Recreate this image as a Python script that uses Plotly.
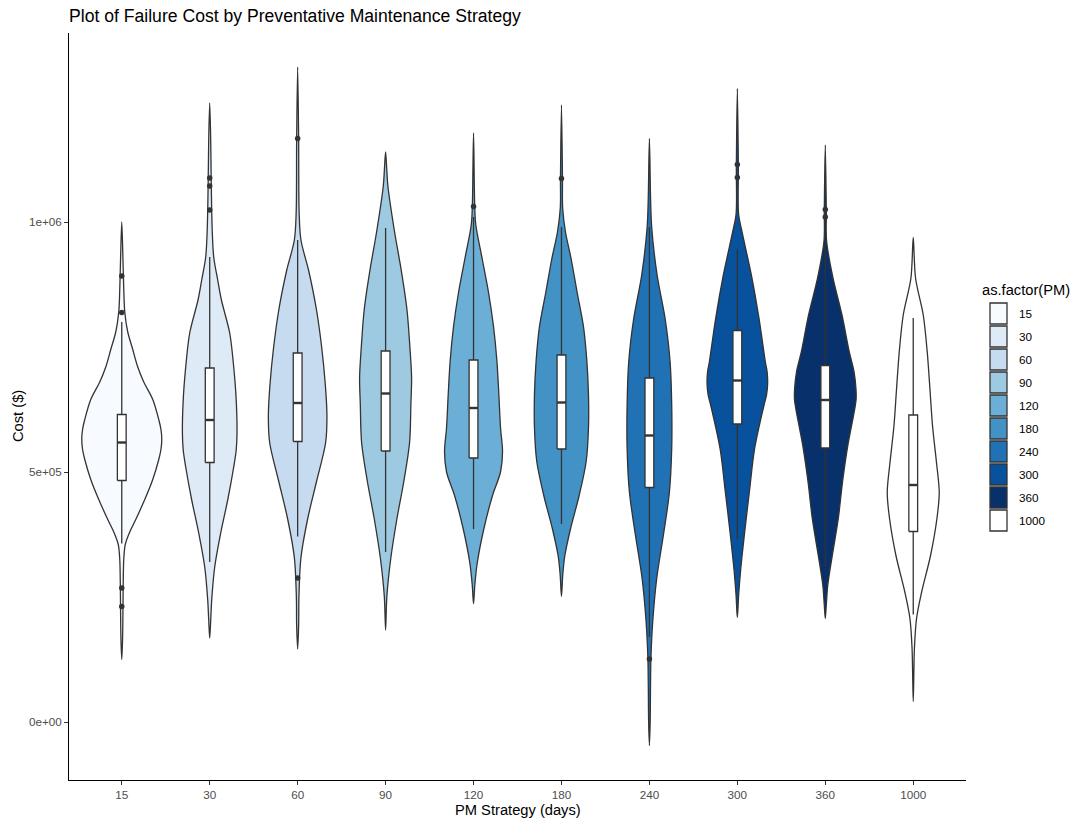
import plotly.graph_objects as go

# ---------------- data ----------------
categories = ["15", "30", "60", "90", "120", "180", "240", "300", "360", "1000"]
fill_colors = ["#F7FBFF", "#DEEBF7", "#C6DBEF", "#9ECAE1", "#6BAED6",
               "#4292C6", "#2171B5", "#08519C", "#08306B", "#FFFFFF"]

# violin outlines: cost levels (top -> bottom) and relative density half-widths
v15_cost = [1000000, 925000, 865000, 820000, 780000, 745000, 710000, 680000, 645000, 605000, 585000,
            565000, 545000, 525000, 485000, 445000, 405000, 380000, 355000, 325000, 285000, 225000,
            165000, 125000]
v15_dens = [0, 1.2, 2, 3, 6, 11, 16, 22, 31, 37, 39.2, 40, 39.2, 37, 31, 23, 14, 8, 3.5, 2, 1.5,
            1.2, 0.8, 0]

v30_cost = [1238000, 1164000, 1084000, 984000, 930000, 884000, 844000, 778000, 710000, 644000,
            578000, 544000, 510000, 444000, 378000, 310000, 244000, 204000, 168000]
v30_dens = [0, 1, 1.5, 2.5, 4, 8, 11.7, 20, 24, 26.5, 27.3, 26.5, 24, 18, 11, 5, 2, 1, 0]

v60_cost = [1310000, 1164000, 1018000, 964000, 903000, 826000, 750000, 674000, 612000, 559000,
            482000, 406000, 329000, 252000, 194000, 146000]
v60_dens = [0, 1, 1.5, 3.3, 11, 18.7, 24, 27.7, 29.3, 28, 19, 10, 3.3, 1.3, 1, 0]

v90_cost = [1140000, 1104000, 1072000, 980000, 903000, 826000, 750000, 689000, 636000, 559000,
            482000, 406000, 329000, 252000, 184000]
v90_dens = [0, 1.2, 2.3, 9, 15.7, 21.3, 24.3, 26, 25.3, 24, 18.3, 11.3, 5.3, 1.3, 0]

v120_cost = [1178000, 1031000, 994000, 926000, 859000, 791000, 724000, 656000, 588000, 541000,
             500000, 453000, 386000, 318000, 274000, 237000]
v120_dens = [0, 1.2, 2.3, 8.7, 15, 20, 23.3, 25.3, 27, 29, 27, 19, 10.3, 3.7, 1.3, 0]

v180_cost = [1234000, 1087000, 1028000, 980000, 926000, 859000, 791000, 724000, 656000, 588000,
             521000, 453000, 386000, 332000, 294000, 251000]
v180_dens = [0, 1, 1.2, 4, 9.7, 15.7, 22, 25.3, 27, 27, 24.7, 17.7, 9, 3.3, 1.3, 0]

v240_cost = [1167000, 1044000, 989000, 894000, 807000, 720000, 634000, 547000, 460000, 374000,
             287000, 200000, 126000, 70000, 4000, -47000]
v240_dens = [0, 1.2, 2.3, 7.7, 15.7, 20.7, 22.3, 22.3, 20, 14, 7.3, 3.3, 1.5, 1.1, 0.8, 0]

v300_cost = [1267000, 1114000, 1015000, 980000, 894000, 807000, 720000, 700000, 677000, 654000,
             634000, 547000, 460000, 374000, 304000, 254000, 209000]
v300_dens = [0, 1, 1.3, 4.7, 14, 21.7, 28, 29.8, 30.3, 29.2, 26.7, 17.3, 12, 7, 3.3, 1.3, 0]

v360_cost = [1154000, 1024000, 962000, 888000, 814000, 740000, 700000, 666000, 645000, 629000,
             600000, 555000, 481000, 407000, 333000, 274000, 234000, 207000]
v360_dens = [0, 1, 1.3, 7.7, 16.7, 24, 28.8, 30.7, 30.8, 29.7, 27, 22.7, 17.3, 13, 7, 2.5, 1, 0]

v1000_cost = [969000, 888000, 814000, 740000, 666000, 592000, 518000, 459000, 407000, 333000,
              259000, 207000, 148000, 41000]
v1000_dens = [0, 2.3, 10, 14, 16.7, 19.3, 23.3, 26, 23.7, 17.3, 8.3, 3.3, 1.2, 0]

violin_cost = [v15_cost, v30_cost, v60_cost, v90_cost, v120_cost,
               v180_cost, v240_cost, v300_cost, v360_cost, v1000_cost]
violin_dens = [v15_dens, v30_dens, v60_dens, v90_dens, v120_dens,
               v180_dens, v240_dens, v300_dens, v360_dens, v1000_dens]

# boxplot statistics
box_q1 = [483000, 519000, 561000, 542000, 528000, 546000, 469000, 596000, 548000, 381000]
box_median = [559000, 604000, 638000, 657000, 628000, 639000, 573000, 683000, 644000, 474000]
box_q3 = [615000, 708000, 738000, 742000, 724000, 734000, 688000, 783000, 713000, 614000]
box_low = [357000, 320000, 371000, 340000, 386000, 396000, 170000, 365000, 311000, 215000]
box_high = [800000, 930000, 964000, 988000, 1010000, 990000, 990000, 946000, 955000, 808000]

# outliers
outlier_cat = ["15", "15", "15", "15", "30", "30", "30", "60", "60", "120", "180",
               "240", "300", "300", "360", "360"]
outlier_cost = [892000, 819000, 268000, 231000, 1088000, 1072000, 1024000, 1167000, 288000,
                1031000, 1087000, 126000, 1115000, 1089000, 1025000, 1010000]

y_tick_vals = [0, 500000, 1000000]
y_tick_text = ["0e+00", "5e+05", "1e+06"]

# ---------------- layout constants ----------------
W, H = 1090, 822
PL, PR, PT, PB = 69, 966, 33, 780          # plot area in px
X_RANGE = [0.4, 10.6]
Y_RANGE = [-116000, 1378000]
UNITS_PER_PX = (X_RANGE[1] - X_RANGE[0]) / (PR - PL)
BOX_HALF = 0.05
OUTLINE = "#333333"
LW = 1.3
FONT = "Liberation Sans, Arial, sans-serif"


def px_x(p):
    return (p - PL) / (PR - PL)


def px_y(p):
    return (PB - p) / (PB - PT)


fig = go.Figure()

for i, cat in enumerate(categories):
    pos = i + 1
    cost = violin_cost[i]
    dens = violin_dens[i]
    xs = [pos + d * UNITS_PER_PX for d in dens] + [pos - d * UNITS_PER_PX for d in reversed(dens[:-1])]
    ys = list(cost) + list(reversed(cost[:-1]))
    fig.add_trace(go.Scatter(
        x=xs, y=ys, mode="lines", fill="toself", fillcolor=fill_colors[i],
        line=dict(color=OUTLINE, width=LW, shape="spline", smoothing=0.9),
        hoverinfo="skip", showlegend=False))

    # whiskers
    fig.add_trace(go.Scatter(
        x=[pos, pos, None, pos, pos], y=[box_q3[i], box_high[i], None, box_low[i], box_q1[i]],
        mode="lines", line=dict(color=OUTLINE, width=LW), hoverinfo="skip", showlegend=False))
    # box body
    fig.add_trace(go.Scatter(
        x=[pos - BOX_HALF, pos + BOX_HALF, pos + BOX_HALF, pos - BOX_HALF, pos - BOX_HALF],
        y=[box_q1[i], box_q1[i], box_q3[i], box_q3[i], box_q1[i]],
        mode="lines", fill="toself", fillcolor="white",
        line=dict(color=OUTLINE, width=LW), hoverinfo="skip", showlegend=False))
    # median
    fig.add_trace(go.Scatter(
        x=[pos - BOX_HALF, pos + BOX_HALF], y=[box_median[i], box_median[i]], mode="lines",
        line=dict(color=OUTLINE, width=2.4), hoverinfo="skip", showlegend=False))

fig.add_trace(go.Scatter(
    x=[categories.index(c) + 1 for c in outlier_cat], y=outlier_cost, mode="markers",
    marker=dict(color=OUTLINE, size=5.5), hoverinfo="skip", showlegend=False))

# ---------------- custom legend (ggplot style) ----------------
shapes = []
annotations = []
KEY_TOP, KEY_H = 302, 23
for k, cat in enumerate(categories):
    top = KEY_TOP + k * KEY_H
    shapes.append(dict(type="rect", xref="paper", yref="paper",
                       x0=px_x(990), x1=px_x(1007), y0=px_y(top + 1), y1=px_y(top + KEY_H - 1),
                       fillcolor=fill_colors[k], line=dict(color=OUTLINE, width=LW)))
    annotations.append(dict(text=cat, xref="paper", yref="paper", x=px_x(1017), y=px_y(top + KEY_H / 2),
                            xanchor="left", yanchor="middle", showarrow=False,
                            font=dict(family=FONT, size=11.7, color="black")))
annotations.append(dict(text="as.factor(PM)", xref="paper", yref="paper", x=px_x(980), y=px_y(290),
                        xanchor="left", yanchor="middle", showarrow=False,
                        font=dict(family=FONT, size=14.7, color="black")))

# axis titles
annotations.append(dict(text="PM Strategy (days)", xref="paper", yref="paper", x=0.5, y=px_y(810),
                        xanchor="center", yanchor="middle", showarrow=False,
                        font=dict(family=FONT, size=14.7, color="black")))
annotations.append(dict(text="Cost ($)", xref="paper", yref="paper", x=px_x(18), y=px_y(416),
                        xanchor="center", yanchor="middle", textangle=-90, showarrow=False,
                        font=dict(family=FONT, size=14.7, color="black")))

fig.update_layout(
    width=W, height=H,
    margin=dict(l=PL, r=W - PR, t=PT, b=H - PB, pad=0),
    paper_bgcolor="white", plot_bgcolor="white",
    title=dict(text="Plot of Failure Cost by Preventative Maintenance Strategy",
               x=PL / W, xref="container", xanchor="left",
               y=1 - 16 / H, yref="container", yanchor="middle",
               font=dict(family=FONT, size=17.6, color="black")),
    xaxis=dict(range=X_RANGE, tickmode="array", tickvals=list(range(1, len(categories) + 1)),
               ticktext=categories, showgrid=False, zeroline=False,
               showline=True, linecolor="black", linewidth=1.3,
               ticks="outside", ticklen=3.7, tickwidth=1.1, tickcolor=OUTLINE,
               tickfont=dict(family=FONT, size=11.7, color="#4D4D4D")),
    yaxis=dict(range=Y_RANGE, tickmode="array", tickvals=y_tick_vals, ticktext=y_tick_text,
               showgrid=False, zeroline=False,
               showline=True, linecolor="black", linewidth=1.3,
               ticks="outside", ticklen=3.7, tickwidth=1.1, tickcolor=OUTLINE,
               tickfont=dict(family=FONT, size=11.7, color="#4D4D4D")),
    shapes=shapes, annotations=annotations,
    font=dict(family=FONT),
)

fig.write_html("out.html", config={"displayModeBar": False},
               post_script="document.body.style.margin='0';document.body.style.overflow='hidden';")
